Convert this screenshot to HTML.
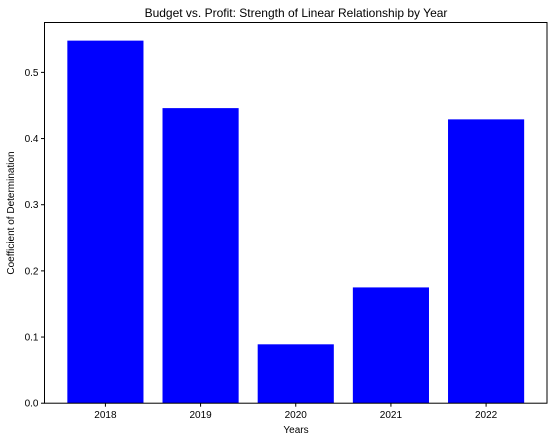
<!DOCTYPE html>
<html><head><meta charset="utf-8"><style>
body{margin:0;background:#fff;}
svg{display:block;font-family:"Liberation Sans","DejaVu Sans",sans-serif;}
</style></head><body>
<svg id="chart" width="553" height="441">
<text x="296" y="17" font-size="12" text-anchor="middle" fill="#000">Budget vs. Profit: Strength of Linear Relationship by Year</text>
<text x="296" y="433" font-size="10" text-anchor="middle">Years</text>
<text x="14" y="213" font-size="10" text-anchor="middle" transform="rotate(-90 14 213)">Coefficient of Determination</text>
<g id="bars"></g><g id="ticks"></g>
<rect x="44.5" y="22.5" width="502.5" height="380.7" fill="none" stroke="#000" stroke-width="1"/>
</svg>
<script>
const categories=["2018","2019","2020","2021","2022"];
const values=[0.548,0.446,0.089,0.175,0.429];
const yTicks=[0,0.1,0.2,0.3,0.4,0.5];
const L=44.5,R=547,T=22.5,B=403.2;
const maxV=Math.max(...values)*1.05;
const y=v=>B-v/maxV*(B-T);
const n=categories.length, x0=-0.4-0.05*(n-0.2), x1=n-1+0.4+0.05*(n-0.2);
const x=i=>L+(i-x0)/(x1-x0)*(R-L);
const ns="http://www.w3.org/2000/svg";
const bars=document.getElementById('bars'),tk=document.getElementById('ticks');
function mk(tag,attrs,parent){const e=document.createElementNS(ns,tag);for(const k in attrs)e.setAttribute(k,attrs[k]);parent.appendChild(e);return e;}
values.forEach((v,i)=>{
 const r=mk('rect',{x:x(i-0.4),y:y(v),width:x(i+0.4)-x(i-0.4),height:B-y(v),fill:'#0000ff'},bars);
 
 
 const l=mk('line',{x1:x(i),x2:x(i),y1:B,y2:B+3.5,stroke:'#000'},tk);
 
 
 const t=mk('text',{x:x(i),y:B+15,'font-size':10,'text-anchor':'middle'},tk);
 t.textContent=categories[i];
 
 
});
yTicks.forEach(v=>{
 const l=mk('line',{x1:L-3.5,x2:L,y1:y(v),y2:y(v),stroke:'#000'},tk);
 
 
 const t=mk('text',{x:L-6,y:y(v)+3.5,'font-size':10,'text-anchor':'end'},tk);
 t.textContent=v.toFixed(1);
 
 
});
</script>
</body></html>
